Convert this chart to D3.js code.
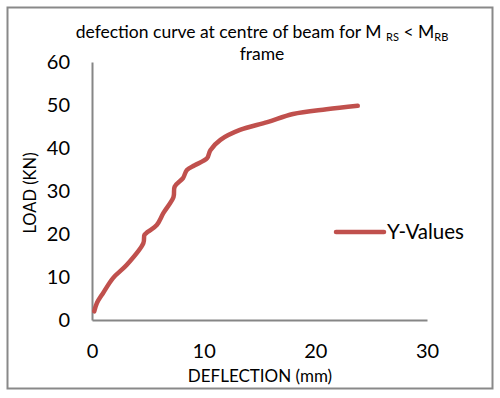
<!DOCTYPE html>
<html><head><meta charset="utf-8">
<script src="https://cdn.jsdelivr.net/npm/d3@7"></script>
<style>body{margin:0;background:#fff}svg{display:block}text{font-family:Lato,"Open Sans",sans-serif;fill:#000}</style>
</head><body>
<script>
const deflection = [0.2, 0.45, 1.0, 1.9, 3.1, 4.6, 4.7, 5.0, 5.8, 6.4, 7.3, 7.4, 8.15, 8.5, 9.2, 10.3, 10.6, 11.5, 13.25, 15.7, 18.0, 21.0, 23.8];
const load = [2, 4, 6.3, 9.8, 12.8, 17.9, 19.8, 20.5, 22.1, 24.9, 28.6, 31, 33, 34.9, 36, 37.6, 39.5, 41.9, 44.2, 46, 47.9, 49, 49.8];
const xTicks = [0, 10, 20, 30];
const yTicks = [0, 10, 20, 30, 40, 50, 60];
const seriesName = "Y-Values";

const W = 500, H = 398;
const svg = d3.select("body").append("svg").attr("width", W).attr("height", H);
svg.append("rect").attr("x", 7.5).attr("y", 7.5).attr("width", 485).attr("height", 381)
  .attr("fill", "#fff").attr("stroke", "#898989").attr("stroke-width", 2);

const x = d3.scaleLinear().domain([0, 30]).range([92, 427]);
const y = d3.scaleLinear().domain([0, 60]).range([320, 62]);

// title
const t = svg.append("text").attr("x", 262).attr("y", 38).attr("text-anchor", "middle").style("font-size", "17.5px");
t.append("tspan").text("defection curve at centre of beam for M ");
t.append("tspan").text("RS").style("font-size", "11px").attr("dy", 3);
t.append("tspan").text(" < M").style("font-size", "17.5px").attr("dy", -3);
t.append("tspan").text("RB").style("font-size", "11px").attr("dy", 3);
svg.append("text").attr("x", 262).attr("y", 60).attr("text-anchor", "middle").style("font-size", "17.5px").text("frame");

// axes
const xAxis = d3.axisBottom(x).tickValues(xTicks).tickSize(0).tickPadding(24);
const gx = svg.append("g").attr("transform", `translate(0,${y(0)})`).call(xAxis);
gx.select(".domain").attr("stroke", "#868686").attr("stroke-width", 2);
gx.selectAll("text").style("font-size", "20px").attr("fill", "#000");

const yAxis = d3.axisLeft(y).tickValues(yTicks).tickSize(0).tickPadding(22);
const gy = svg.append("g").attr("transform", `translate(${x(0)},0)`).call(yAxis);
gy.select(".domain").attr("stroke", "#868686").attr("stroke-width", 2);
gy.selectAll("text").style("font-size", "20px").attr("fill", "#000");

svg.append("text").attr("x", 260).attr("y", 382).attr("text-anchor", "middle").style("font-size", "17px").text("DEFLECTION (mm)");
svg.append("text").attr("transform", "translate(36,193) rotate(-90)").attr("text-anchor", "middle").style("font-size", "16.5px").text("LOAD (KN)");

// line
const pts = deflection.map((d, i) => [d, load[i]]);
svg.append("path").datum(pts)
  .attr("d", d3.line().x(d => x(d[0])).y(d => y(d[1])).curve(d3.curveCatmullRom))
  .attr("fill", "none").attr("stroke", "#c0504d").attr("stroke-width", 4.5)
  .attr("stroke-linecap", "round").attr("stroke-linejoin", "round");

// legend
svg.append("line").attr("x1", 336).attr("x2", 384).attr("y1", 232).attr("y2", 232)
  .attr("stroke", "#c0504d").attr("stroke-width", 4.5).attr("stroke-linecap", "round");
svg.append("text").attr("x", 387).attr("y", 239).style("font-size", "20.5px").text(seriesName);
</script>
</body></html>
